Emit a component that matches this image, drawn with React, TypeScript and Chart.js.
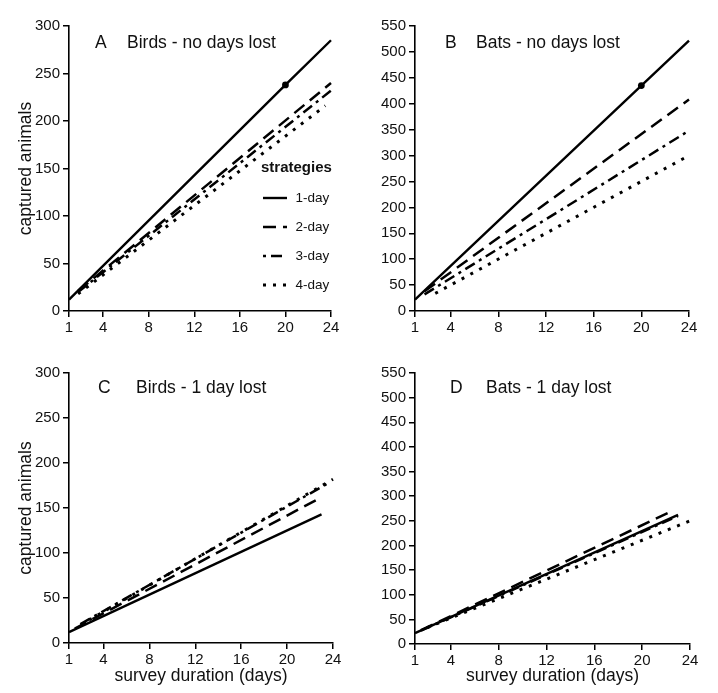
import React, { useEffect, useRef } from "react";
import { Chart, registerables } from "chart.js";

Chart.register(...registerables);

const FONT = "'Liberation Sans', Arial, Helvetica, sans-serif";

// ---- ticks / labels ----
const dayTicks = [1, 4, 8, 12, 16, 20, 24];
const birdTicks = [0, 50, 100, 150, 200, 250, 300];
const batTicks = [0, 50, 100, 150, 200, 250, 300, 350, 400, 450, 500, 550];
const strategies = ["1-day", "2-day", "3-day", "4-day"];

// ---- Panel A: birds, no days lost ----
const birdsNoLoss1DayX = [1, 20, 24];
const birdsNoLoss1DayY = [12, 238, 285];
const birdsNoLoss2DayX = [1.8, 24];
const birdsNoLoss2DayY = [21, 240];
const birdsNoLoss3DayX = [1.8, 24];
const birdsNoLoss3DayY = [20, 232];
const birdsNoLoss4DayX = [1.8, 23.5];
const birdsNoLoss4DayY = [18, 216];

// ---- Panel B: bats, no days lost ----
const batsNoLoss1DayX = [1, 20, 24];
const batsNoLoss1DayY = [22, 435, 522];
const batsNoLoss2DayX = [1.8, 24];
const batsNoLoss2DayY = [38, 408];
const batsNoLoss3DayX = [1.8, 24];
const batsNoLoss3DayY = [32, 348];
const batsNoLoss4DayX = [2.7, 24];
const batsNoLoss4DayY = [34, 300];

// ---- Panel C: birds, 1 day lost ----
const birdsLoss1DayX = [1, 23];
const birdsLoss1DayY = [12, 143];
const birdsLoss2DayX = [1.5, 23];
const birdsLoss2DayY = [16, 162];
const birdsLoss3DayX = [2, 23.5];
const birdsLoss3DayY = [21, 177];
const birdsLoss4DayX = [2, 24];
const birdsLoss4DayY = [20, 182];

// ---- Panel D: bats, 1 day lost ----
const batsLoss1DayX = [1, 23];
const batsLoss1DayY = [22, 262];
const batsLoss2DayX = [1.5, 22.5];
const batsLoss2DayY = [28, 270];
const batsLoss3DayX = [1.5, 23];
const batsLoss3DayY = [27, 260];
const batsLoss4DayX = [2, 24];
const batsLoss4DayY = [33, 250];

// marker day on 1-day lines
const markerDay = 20;

const dashStyles: number[][] = [[], [13, 7], [11, 5, 3, 5], [3, 7]];
const lineWidths = [2.4, 2.5, 2.5, 3];

type Series = { x: number[]; y: number[] };

type Panel = {
  key: string;
  left: number;
  top: number;
  width: number;
  height: number;
  padTop: number;
  padRight: number;
  yWidth: number;
  xHeight: number;
  yMax: number;
  yTicks: number[];
  yTitle: boolean;
  xTitle: boolean;
  letter: string;
  title: string;
  letterX: number;
  titleX: number;
  titleY: number;
  legend: boolean;
  series: Series[];
  marker: boolean;
};

const panels: Panel[] = [
  {
    key: "A", left: 0, top: 0, width: 358, height: 340,
    padTop: 26, padRight: 27, yWidth: 69, xHeight: 29,
    yMax: 300, yTicks: birdTicks, yTitle: true, xTitle: false,
    letter: "A", title: "Birds - no days lost", letterX: 95, titleX: 127, titleY: 48,
    legend: true, marker: true,
    series: [
      { x: birdsNoLoss1DayX, y: birdsNoLoss1DayY },
      { x: birdsNoLoss2DayX, y: birdsNoLoss2DayY },
      { x: birdsNoLoss3DayX, y: birdsNoLoss3DayY },
      { x: birdsNoLoss4DayX, y: birdsNoLoss4DayY },
    ],
  },
  {
    key: "B", left: 358, top: 0, width: 360, height: 340,
    padTop: 26, padRight: 29, yWidth: 57, xHeight: 29,
    yMax: 550, yTicks: batTicks, yTitle: false, xTitle: false,
    letter: "B", title: "Bats - no days lost", letterX: 87, titleX: 118, titleY: 48,
    legend: false, marker: true,
    series: [
      { x: batsNoLoss1DayX, y: batsNoLoss1DayY },
      { x: batsNoLoss2DayX, y: batsNoLoss2DayY },
      { x: batsNoLoss3DayX, y: batsNoLoss3DayY },
      { x: batsNoLoss4DayX, y: batsNoLoss4DayY },
    ],
  },
  {
    key: "C", left: 0, top: 340, width: 358, height: 353,
    padTop: 33, padRight: 25, yWidth: 69, xHeight: 50,
    yMax: 300, yTicks: birdTicks, yTitle: true, xTitle: true,
    letter: "C", title: "Birds - 1 day lost", letterX: 98, titleX: 136, titleY: 53,
    legend: false, marker: false,
    series: [
      { x: birdsLoss1DayX, y: birdsLoss1DayY },
      { x: birdsLoss2DayX, y: birdsLoss2DayY },
      { x: birdsLoss3DayX, y: birdsLoss3DayY },
      { x: birdsLoss4DayX, y: birdsLoss4DayY },
    ],
  },
  {
    key: "D", left: 358, top: 340, width: 360, height: 353,
    padTop: 33, padRight: 28, yWidth: 57, xHeight: 49,
    yMax: 550, yTicks: batTicks, yTitle: false, xTitle: true,
    letter: "D", title: "Bats - 1 day lost", letterX: 92, titleX: 128, titleY: 53,
    legend: false, marker: false,
    series: [
      { x: batsLoss1DayX, y: batsLoss1DayY },
      { x: batsLoss2DayX, y: batsLoss2DayY },
      { x: batsLoss3DayX, y: batsLoss3DayY },
      { x: batsLoss4DayX, y: batsLoss4DayY },
    ],
  },
];

const annotationPlugin = {
  id: "panelAnnotations",
  afterDraw(chart: any) {
    const p: Panel = chart.options.plugins.panelAnnotations.panel;
    const ctx = chart.ctx;
    ctx.save();
    ctx.fillStyle = "#111";
    ctx.textBaseline = "alphabetic";
    ctx.textAlign = "left";
    ctx.font = `17.5px ${FONT}`;
    ctx.fillText(p.letter, p.letterX, p.titleY);
    ctx.fillText(p.title, p.titleX, p.titleY);
    if (p.legend) {
      ctx.font = `bold 15px ${FONT}`;
      ctx.textBaseline = "middle";
      ctx.fillText("strategies", 261, 168);
      const ys = [198, 227, 256, 285];
      const offsets = [0, 0, 16, 0];
      ctx.font = `13.5px ${FONT}`;
      strategies.forEach((s, i) => {
        ctx.save();
        ctx.strokeStyle = "#000";
        ctx.lineWidth = lineWidths[i];
        ctx.setLineDash(dashStyles[i]);
        ctx.lineDashOffset = offsets[i];
        ctx.beginPath();
        ctx.moveTo(263, ys[i]);
        ctx.lineTo(287, ys[i]);
        ctx.stroke();
        ctx.restore();
        ctx.fillText(s, 295.5, ys[i]);
      });
    }
    ctx.restore();
  },
};

function PanelChart({ p }: { p: Panel }) {
  const ref = useRef<HTMLCanvasElement | null>(null);
  useEffect(() => {
    if (!ref.current) return;
    const datasets = p.series.map((s, i) => ({
      label: strategies[i],
      data: s.x.map((x, j) => ({ x, y: s.y[j] })),
      borderColor: "#000",
      backgroundColor: "#000",
      borderWidth: lineWidths[i],
      borderDash: dashStyles[i],
      borderCapStyle: "butt" as const,
      tension: 0,
      fill: false,
      clip: false as any,
      pointRadius: s.x.map((x) => (p.marker && i === 0 && x === markerDay ? 3.4 : 0)),
      pointBackgroundColor: "#000",
      pointBorderWidth: 0,
    }));
    const tickFont = { family: FONT, size: 15 };
    const chart = new Chart(ref.current, {
      type: "line",
      data: { datasets },
      plugins: [annotationPlugin],
      options: {
        animation: false,
        responsive: false,
        maintainAspectRatio: false,
        layout: { padding: { top: p.padTop, right: p.padRight, left: 0, bottom: 0 } },
        plugins: {
          legend: { display: false },
          tooltip: { enabled: false },
          panelAnnotations: { panel: p },
        } as any,
        scales: {
          x: {
            type: "linear",
            min: 1,
            max: 24,
            afterBuildTicks: (s: any) => {
              s.ticks = dayTicks.map((v) => ({ value: v }));
            },
            afterFit: (s: any) => {
              s.height = p.xHeight;
              s.paddingLeft = 0;
              s.paddingRight = 0;
            },
            grid: {
              display: true,
              drawOnChartArea: false,
              drawTicks: true,
              tickLength: 6,
              color: "#000",
              lineWidth: 1.5,
            },
            border: { display: true, color: "#000", width: 1.6 },
            ticks: { font: tickFont, color: "#111", padding: 2, maxRotation: 0, autoSkip: false },
            title: {
              display: p.xTitle,
              text: "survey duration (days)",
              font: { family: FONT, size: 17.5 },
              color: "#111",
              padding: { top: 0, bottom: 6 },
            },
          },
          y: {
            type: "linear",
            min: 0,
            max: p.yMax,
            afterBuildTicks: (s: any) => {
              s.ticks = p.yTicks.map((v) => ({ value: v }));
            },
            afterFit: (s: any) => {
              s.width = p.yWidth;
              s.paddingTop = 0;
              s.paddingBottom = 0;
            },
            grid: {
              display: true,
              drawOnChartArea: false,
              drawTicks: true,
              tickLength: 6,
              color: "#000",
              lineWidth: 1.5,
            },
            border: { display: true, color: "#000", width: 1.6 },
            ticks: { font: tickFont, color: "#111", padding: 3, autoSkip: false },
            title: {
              display: p.yTitle,
              text: "captured animals",
              font: { family: FONT, size: 17.5 },
              color: "#111",
              padding: { top: 16, bottom: 0 },
            },
          },
        },
      } as any,
    });
    return () => chart.destroy();
  }, [p]);
  return (
    <div style={{ position: "absolute", left: p.left, top: p.top, width: p.width, height: p.height }}>
      <canvas ref={ref} width={p.width} height={p.height} style={{ display: "block" }} />
    </div>
  );
}

export default function App() {
  return (
    <div style={{ position: "absolute", left: 0, top: 0, width: 718, height: 693, background: "#fff" }}>
      {panels.map((p) => (
        <PanelChart key={p.key} p={p} />
      ))}
    </div>
  );
}
